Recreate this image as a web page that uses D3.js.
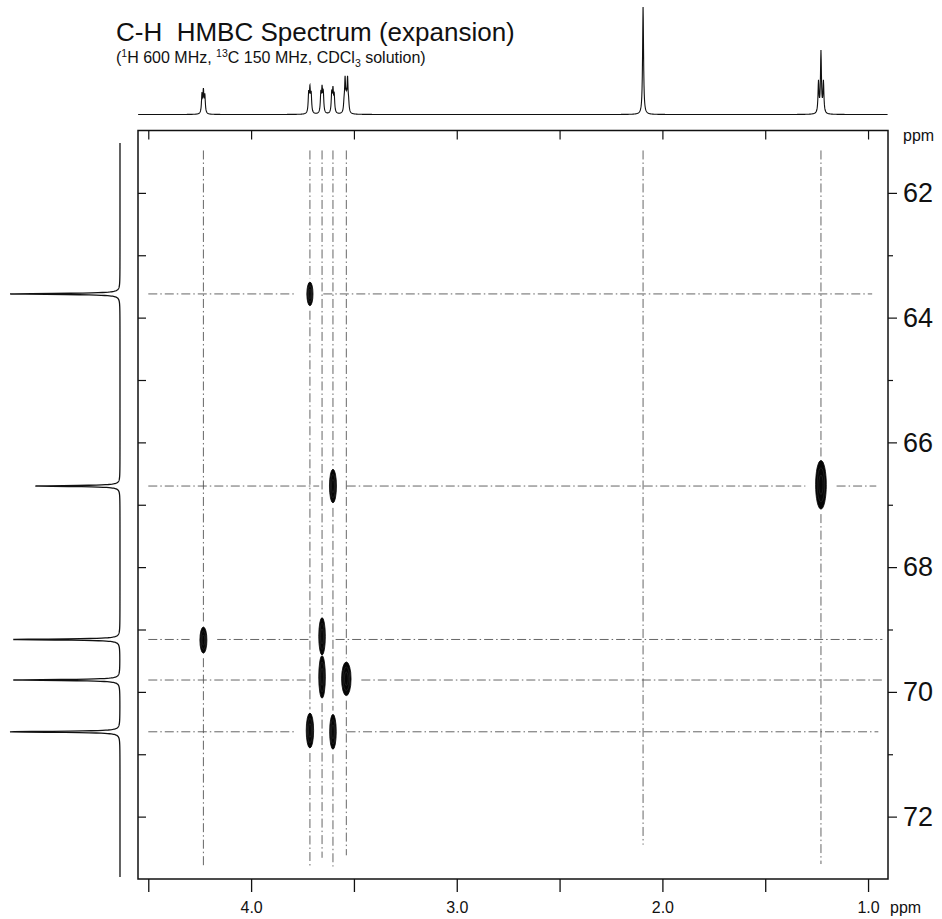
<!DOCTYPE html>
<html><head><meta charset="utf-8">
<script src="https://cdn.jsdelivr.net/npm/d3@7"></script>
<style>
body{margin:0;background:#fff}
svg{display:block}
text{font-family:"Liberation Sans",Arial,Helvetica,sans-serif;fill:#111}
</style>
</head><body>
<svg id="c" width="942" height="919"></svg>
<script>
// ---------- data ----------
// 1H projection: line positions (ppm) and relative heights
const hShifts  = [4.239,4.232,4.225, 3.720,3.714,3.708, 3.661,3.655,3.649, 3.608,3.602,3.596, 3.548,3.543,3.537,3.531,3.526, 2.094, 1.241,1.229,1.217];
const hHeights = [0.17,0.20,0.16,    0.18,0.21,0.17,    0.17,0.21,0.18,    0.18,0.20,0.16,    0.08,0.30,0.12,0.30,0.08,       1.00,  0.29,0.57,0.29];
// 13C projection
const cShifts  = [63.62, 66.70, 69.16, 69.81, 70.64];
const cHeights = [1.00, 0.77, 0.97, 0.97, 1.00];
// HMBC cross peaks (1H ppm, 13C ppm) and their half extents (ppm)
const crossH     = [3.714, 3.602, 1.229, 4.232, 3.655, 3.655, 3.537, 3.714, 3.602];
const crossC     = [63.62, 66.70, 66.68, 69.17, 69.11, 69.76, 69.79, 70.62, 70.64];
const crossHalfH = [0.015, 0.017, 0.026, 0.017, 0.016, 0.016, 0.023, 0.018, 0.016];
const crossHalfC = [0.19,  0.27,  0.39,  0.21,  0.30,  0.34,  0.27,  0.28,  0.28];
// dashed guide lines
const vGuides   = [4.232, 3.714, 3.655, 3.602, 3.537, 2.094, 1.229];
const vGuideEnd = [72.78, 72.80, 72.66, 72.80, 72.62, 72.45, 72.76];
const hGuides   = [63.62, 66.70, 69.16, 69.81, 70.64];
const hGuideEnd = [0.98, 0.96, 0.93, 0.93, 0.95];
// axes
const xTicks  = [4.5, 4.0, 3.5, 3.0, 2.5, 2.0, 1.5, 1.0];
const xLabels = ["", "4.0", "", "3.0", "", "2.0", "", "1.0"];
const yMajor  = [62, 64, 66, 68, 70, 72];
const yMinor  = [63, 65, 67, 69, 71];
const yInner  = [62, 63, 64, 65, 66, 67, 68, 69, 70, 71, 72];

// ---------- layout ----------
const svg = d3.select("#c");
const x = d3.scaleLinear().domain([4.55, 0.903]).range([138, 888]);
const y = d3.scaleLinear().domain([61.0, 73.0]).range([130.5, 879]);
const topY = d3.scaleLinear().domain([0, 1]).range([114.5, 7]);
const leftX = d3.scaleLinear().domain([0, 1]).range([120, 10]);

function lorentz(pos, heights, w, grid) {
  return grid.map(p => {
    let s = 0;
    for (let i = 0; i < pos.length; i++) { const d = (p - pos[i]) / w; s += heights[i] / (1 + d * d); }
    return [p, s];
  });
}
function makeGrid(a, b, step, extra) {
  const g = d3.range(a, b, step).concat(extra).filter(v => v >= Math.min(a,b) && v <= Math.max(a,b));
  return g.sort((p, q) => p - q);
}

// title
const title = svg.append("g");
title.append("text").attr("x", 116).attr("y", 41).attr("font-size", 26)
  .text("C-H\u00a0\u00a0HMBC Spectrum (expansion)");
const sub = title.append("text").attr("x", 116).attr("y", 63).attr("font-size", 16);
sub.append("tspan").text("(");
sub.append("tspan").attr("font-size", 10.5).attr("dy", -6).text("1");
sub.append("tspan").attr("dy", 6).text("H 600 MHz, ");
sub.append("tspan").attr("font-size", 10.5).attr("dy", -6).text("13");
sub.append("tspan").attr("dy", 6).text("C 150 MHz, CDCl");
sub.append("tspan").attr("font-size", 10.5).attr("dy", 4).text("3");
sub.append("tspan").attr("dy", -4).text(" solution)");

// top 1H projection
const hGrid = makeGrid(0.905, 4.55, 0.0012, hShifts);
const hData = lorentz(hShifts, hHeights, 0.0028, hGrid);
svg.append("path").datum(hData)
  .attr("d", d3.line().x(d => x(d[0])).y(d => topY(d[1])))
  .attr("fill", "none").attr("stroke", "#111").attr("stroke-width", 1.1);

// left 13C projection
const cGrid = makeGrid(61.2, 72.97, 0.003, cShifts);
const cData = lorentz(cShifts, cHeights, 0.010, cGrid);
svg.append("path").datum(cData)
  .attr("d", d3.line().x(d => leftX(d[1])).y(d => y(d[0])))
  .attr("fill", "none").attr("stroke", "#111").attr("stroke-width", 1.3);

// guide lines with gaps around the cross peaks
function segments(a, b, gaps) {
  let segs = [[Math.min(a,b), Math.max(a,b)]];
  gaps.forEach(([g0, g1]) => {
    const out = [];
    segs.forEach(([s0, s1]) => {
      if (g1 <= s0 || g0 >= s1) { out.push([s0, s1]); return; }
      if (g0 > s0) out.push([s0, g0]);
      if (g1 < s1) out.push([g1, s1]);
    });
    segs = out;
  });
  return segs;
}
const guides = svg.append("g").attr("stroke", "#555").attr("stroke-width", 0.9)
  .attr("stroke-dasharray", "9,3,1.5,3").attr("fill", "none");
vGuides.forEach((h, i) => {
  const gaps = [];
  crossH.forEach((ch, k) => { if (Math.abs(ch - h) < 0.01) gaps.push([crossC[k] - crossHalfC[k] - 0.06, crossC[k] + crossHalfC[k] + 0.08]); });
  segments(61.32, vGuideEnd[i], gaps).forEach(([c0, c1]) => {
    guides.append("line").attr("x1", x(h)).attr("x2", x(h)).attr("y1", y(c0)).attr("y2", y(c1));
  });
});
hGuides.forEach((c, i) => {
  const gaps = [];
  crossC.forEach((cc, k) => { if (Math.abs(cc - c) < 0.1) gaps.push([crossH[k] - crossHalfH[k] - 0.05, crossH[k] + crossHalfH[k] + 0.05]); });
  segments(hGuideEnd[i], 4.50, gaps).forEach(([h0, h1]) => {
    guides.append("line").attr("y1", y(c)).attr("y2", y(c)).attr("x1", x(h1)).attr("x2", x(h0));
  });
});

// cross peaks (contour stacks)
const peaks = svg.append("g");
crossH.forEach((h, k) => {
  const cx = x(h), cy = y(crossC[k]);
  const rx = Math.abs(x(h + crossHalfH[k]) - cx), ry = Math.abs(y(crossC[k] + crossHalfC[k]) - cy);
  peaks.append("ellipse").attr("cx", cx).attr("cy", cy).attr("rx", rx).attr("ry", ry)
    .attr("fill", "#050505").attr("stroke", "#050505").attr("stroke-width", 0.8);
  [0.7, 0.4].forEach(s => {
    peaks.append("ellipse").attr("cx", cx).attr("cy", cy).attr("rx", rx * s).attr("ry", ry * s)
      .attr("fill", "none").attr("stroke", "#fff").attr("stroke-opacity", 0.18).attr("stroke-width", 0.5);
  });
});

// frame
svg.append("rect").attr("x", x.range()[0]).attr("y", y.range()[0])
  .attr("width", x.range()[1] - x.range()[0]).attr("height", y.range()[1] - y.range()[0])
  .attr("fill", "none").attr("stroke", "#111").attr("stroke-width", 1.5);

// bottom axis
const bottom = svg.append("g").attr("transform", `translate(0,${y.range()[1]})`)
  .call(d3.axisBottom(x).tickValues(xTicks).tickSize(13).tickPadding(10)
    .tickFormat((d, i) => xLabels[i]));
bottom.select(".domain").remove();
bottom.selectAll("line").attr("stroke", "#111").attr("stroke-width", 1.3);
bottom.selectAll("text").attr("font-size", 16).attr("fill", "#111")
  .attr("font-family", '"Liberation Sans",Arial,sans-serif');
svg.append("text").attr("x", x(1.0) + 22).attr("y", 913).attr("font-size", 16).text("ppm");

// top inner ticks
const topAx = svg.append("g").attr("transform", `translate(0,${y.range()[0]})`)
  .call(d3.axisBottom(x).tickValues(xTicks).tickSize(9).tickFormat(""));
topAx.select(".domain").remove();
topAx.selectAll("line").attr("stroke", "#111").attr("stroke-width", 1.2);

// left inner ticks
const leftAx = svg.append("g").attr("transform", `translate(${x.range()[0]},0)`)
  .call(d3.axisRight(y).tickValues(yInner).tickSize(8).tickFormat(""));
leftAx.select(".domain").remove();
leftAx.selectAll("line").attr("stroke", "#111").attr("stroke-width", 1.2);

// right axis
const rightAx = svg.append("g").attr("transform", `translate(${x.range()[1]},0)`)
  .call(d3.axisRight(y).tickValues(yMajor).tickSize(9).tickPadding(6).tickFormat(d3.format("d")));
rightAx.select(".domain").remove();
rightAx.selectAll("line").attr("stroke", "#111").attr("stroke-width", 1.2);
rightAx.selectAll("text").attr("font-size", 27).attr("fill", "#111")
  .attr("font-family", '"Liberation Sans",Arial,sans-serif');
const rightMinor = svg.append("g").attr("transform", `translate(${x.range()[1]},0)`)
  .call(d3.axisRight(y).tickValues(yMinor).tickSize(5).tickFormat(""));
rightMinor.select(".domain").remove();
rightMinor.selectAll("line").attr("stroke", "#111").attr("stroke-width", 1.2);
svg.append("text").attr("x", 903).attr("y", 141).attr("font-size", 16).text("ppm");
</script>
</body></html>
